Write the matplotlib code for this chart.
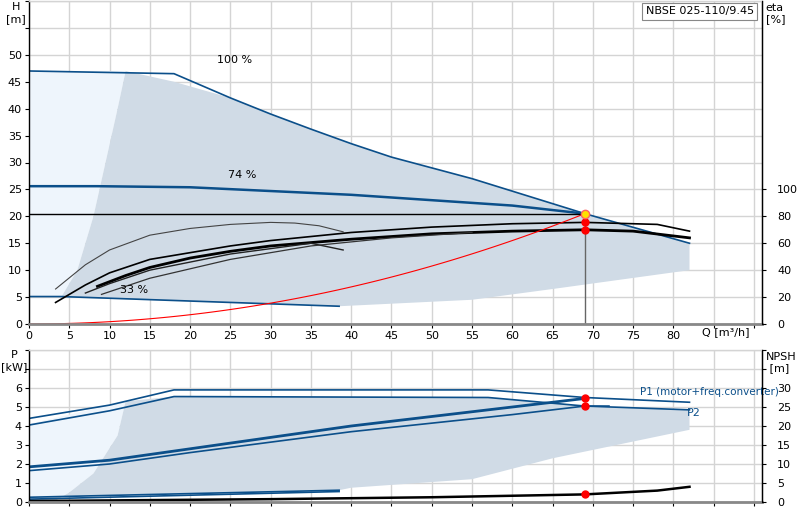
import numpy as np
import matplotlib; matplotlib.use("Agg")
import matplotlib.pyplot as plt

BLUE = "#0b4f8a"; SHADE = "#d0dbe6"; LIGHT = "#eef5fc"; GRID = "#d4d4d4"

# ---- head curves (Q m3/h, H m) ----
q100 = [0, 18, 25, 30, 35, 40, 45, 55, 69, 82]
h100 = [47, 46.5, 42, 39, 36.2, 33.5, 31, 27, 20.5, 15]
q74 = [0, 8.5, 20, 40, 60, 69]
h74 = [25.6, 25.6, 25.4, 24, 22, 20.5]
q33 = [0, 4, 38.5]
h33 = [5.1, 5.1, 3.3]
# efficiency curves, eta in % (right axis = 4 x H)
effA_q = [3.3, 7, 10, 15, 20, 25, 30, 33, 36, 39]
effA_e = [26, 44, 55, 66, 71, 74, 75.5, 75, 73, 68.5]
effB_q = [3.3, 7, 10, 15, 20, 25, 30, 40, 50, 60, 69, 78, 82]
effB_e = [16, 29, 38, 48, 53, 58, 62, 68, 72, 74.5, 75.5, 74, 69]
effC_q = [8.5, 12, 15, 20, 25, 30, 40, 50, 60, 69, 75, 82]
effC_e = [28, 36, 42, 49, 54, 58, 63, 67, 69, 70, 69, 64]
effD_q = [7, 10, 15, 25, 35, 39]
effD_e = [23, 30, 40, 52, 60, 55]
effE_q = [9, 15, 25, 35, 45, 55]
effE_e = [22, 34, 48, 58, 64, 68]
q_duty = 69; h_duty = 20.5; eta_dots = [76, 70]
# shaded operating area
dark_q = [4, 6, 8, 9.5, 11, 12, 18, 25, 30, 35, 40, 45, 55, 69, 82, 82, 65, 55, 38.5, 4]
dark_h = [5, 10, 20, 30, 40, 47, 45, 42, 39, 36.2, 33.5, 31, 27, 20.5, 15, 10, 6.5, 4.5, 3.3, 5]
light_q = [0, 0, 12, 11, 9.5, 8, 6, 4]
light_h = [5, 47, 47, 40, 30, 20, 10, 5]

# ---- power curves (kW) ----
p1_100_q = [0, 10, 18, 57, 69, 82]; p1_100 = [4.4, 5.1, 5.9, 5.9, 5.5, 5.25]
p2_100_q = [0, 10, 18, 57, 69, 82]; p2_100 = [4.05, 4.8, 5.55, 5.5, 5.05, 4.85]
p1_74_q = [0, 10, 20, 40, 60, 69]; p1_74 = [1.85, 2.2, 2.8, 4.0, 5.0, 5.45]
p2_74_q = [0, 10, 20, 40, 60, 69, 72]; p2_74 = [1.65, 2.0, 2.6, 3.7, 4.6, 5.05, 5.05]
p1_33_q = [0, 38.5]; p1_33 = [0.25, 0.62]
p2_33_q = [0, 38.5]; p2_33 = [0.15, 0.55]
npsh_q = [0, 30, 50, 69, 78, 82]; npsh = [0.25, 0.75, 1.25, 2.0, 3.0, 4.0]  # m
p_dots = [5.5, 5.05]; npsh_dot = 2.0
pd_q = [3, 5, 8, 11, 12, 18, 57, 69, 82, 82, 65, 55, 40, 38.5, 0, 0]
pd_p = [0, 0.5, 1.5, 3.5, 5.3, 5.55, 5.5, 5.05, 4.85, 3.8, 2.3, 1.2, 0.75, 0.62, 0.25, 0]
pl_q = [0, 0, 12, 11, 8, 5, 3]
pl_p = [0, 4.1, 5.3, 3.5, 1.5, 0.5, 0]

plt.rcParams.update({"font.family": "DejaVu Sans", "font.size": 8})
fig = plt.figure(figsize=(8, 5.2), dpi=100)
W, H = 800, 520
ax = fig.add_axes([29/W, 1 - 324/H, (762-29)/W, 323/H])
bx = fig.add_axes([29/W, 1 - 502/H, (762-29)/W, 152/H])
XMAX = 91

for a in (ax, bx):
    a.set_xlim(0, XMAX)
    a.set_xticks(np.arange(0, 91, 5))
    a.grid(True, color=GRID, lw=1)
    a.set_axisbelow(True)
    a.tick_params(length=3, direction="out", pad=2)
    for s in a.spines.values():
        s.set_color("black"); s.set_linewidth(1)
    a.spines["top"].set_color(GRID)
    a.spines["bottom"].set_color("#888888"); a.spines["bottom"].set_linewidth(2)

# top chart
ax.set_ylim(0, 60)
ax.set_yticks(np.arange(0, 61, 5))
ax.set_yticklabels([str(v) if v <= 50 else "" for v in range(0, 61, 5)])
ax.set_xticklabels([str(v) for v in range(0, 81, 5)] + ["", ""])
ax.fill(light_q, light_h, color=LIGHT, lw=0)
ax.fill(dark_q, dark_h, color=SHADE, lw=0)
ax.plot(q100, h100, color=BLUE, lw=1.2)
ax.plot(q74, h74, color=BLUE, lw=1.8)
ax.plot(q33, h33, color=BLUE, lw=1.2)
for qq, ee, lw, c in [(effA_q, effA_e, 0.8, "#444444"), (effB_q, effB_e, 1.2, "black"),
                      (effC_q, effC_e, 2.0, "black"), (effD_q, effD_e, 1.0, "#222222"),
                      (effE_q, effE_e, 0.9, "#333333")]:
    ax.plot(qq, np.array(ee) / 4, color=c, lw=lw)
qs = np.linspace(0, q_duty, 80)
ax.plot(qs, h_duty * (qs / q_duty) ** 2, color="red", lw=0.8)
ax.plot([0, q_duty], [h_duty, h_duty], color="black", lw=1)
ax.plot([q_duty, q_duty], [0, h_duty], color="#666666", lw=1)
ax.plot([q_duty] * 2, np.array(eta_dots) / 4, "o", color="red", ms=5)
ax.plot(q_duty, h_duty, "o", color="#ffe000", mec="#ff6060", ms=6)
ax.text(25.5, 48.5, "100 %", ha="center")
ax.text(26.5, 27.2, "74 %", ha="center")
ax.text(13, 5.8, "33 %", ha="center")
ax.text(-14, 0, "H\n[m]", transform=ax.get_yaxis_transform().__class__(ax.transAxes, ax.transAxes) if False else ax.transData,
        ha="center", va="top") if False else None
fig.text(16/W, 1 - 2/H, "H\n[m]", ha="center", va="top", fontsize=8)
ax.text(XMAX - 1, 59, "NBSE 025-110/9.45", ha="right", va="top",
        bbox=dict(facecolor="white", edgecolor="#888888", lw=0.8, pad=2.5))
ax.text(86.5, -0.5, "Q [m³/h]", ha="center", va="top")
r = ax.twinx()
r.set_ylim(0, 240)
r.set_yticks(np.arange(0, 101, 20))
r.tick_params(length=3, pad=8)
r.text(1.005, 0.995, "eta\n[%]", transform=ax.transAxes, va="top", ha="left")
for s in r.spines.values(): s.set_visible(False)
r.spines["right"].set_visible(True); r.spines["right"].set_color("black")

# bottom chart
bx.set_ylim(0, 8)
bx.set_yticks(range(0, 9))
bx.set_yticklabels([str(v) if v <= 6 else "" for v in range(0, 9)])
bx.set_xticklabels([])
bx.fill(pl_q, pl_p, color=LIGHT, lw=0)
bx.fill(pd_q, pd_p, color=SHADE, lw=0)
bx.plot(p1_100_q, p1_100, color=BLUE, lw=1.2)
bx.plot(p2_100_q, p2_100, color=BLUE, lw=1.2)
bx.plot(p1_74_q, p1_74, color=BLUE, lw=2.0)
bx.plot(p2_74_q, p2_74, color=BLUE, lw=1.2)
bx.plot(p1_33_q, p1_33, color=BLUE, lw=1.2)
bx.plot(p2_33_q, p2_33, color=BLUE, lw=1.2)
bx.plot(npsh_q, np.array(npsh) / 5, color="black", lw=1.8)
bx.plot([q_duty] * 2, p_dots, "o", color="red", ms=5)
bx.plot(q_duty, npsh_dot / 5, "o", color="red", ms=5)
bx.text(75.8, 5.55, "P1 (motor+freq.converter)", color=BLUE, ha="left", va="bottom", fontsize=7.5)
bx.text(82.5, 4.55, "P2", color=BLUE, ha="center")
fig.text(14/W, 1 - 350/H, "P\n[kW]", ha="center", va="top", fontsize=8)
rb = bx.twinx()
rb.set_ylim(0, 40)
rb.set_yticks(range(0, 41, 5))
rb.set_yticklabels([str(v) if v <= 30 else "" for v in range(0, 41, 5)])
rb.tick_params(length=3, pad=8)
rb.text(1.005, 0.99, "NPSH\n [m]", transform=bx.transAxes, va="top", ha="left")
for s in rb.spines.values(): s.set_visible(False)
rb.spines["right"].set_visible(True); rb.spines["right"].set_color("black")

fig.savefig("out.png", dpi=100)
